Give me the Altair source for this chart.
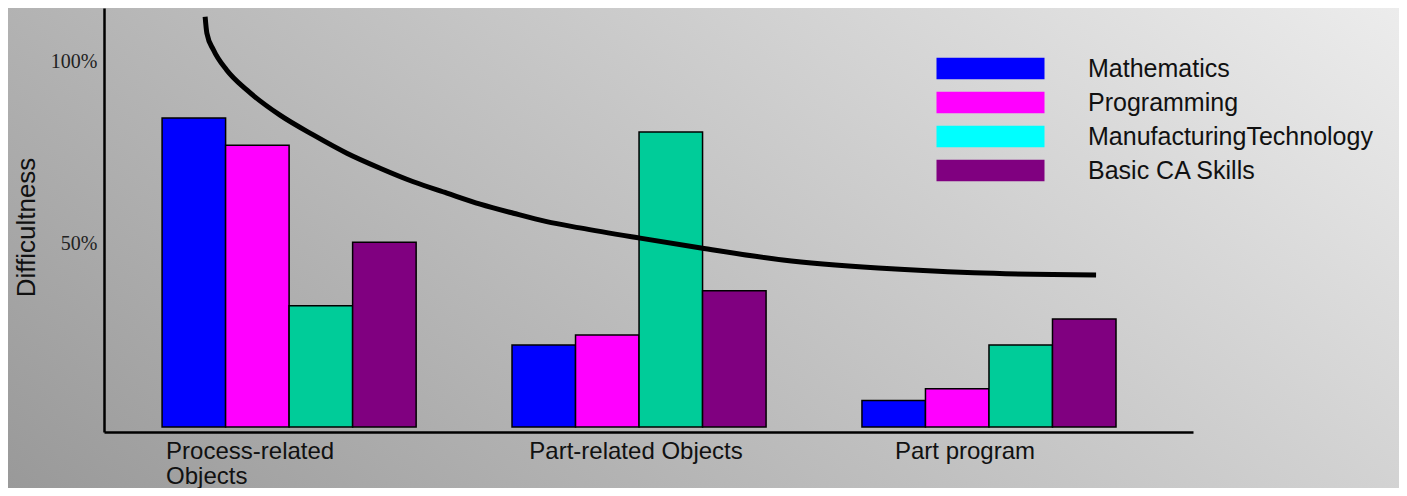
import altair as alt
import pandas as pd

# ---- data ----
groups = ["Process-related Objects", "Part-related Objects", "Part program"]
series = ["Mathematics", "Programming", "ManufacturingTechnology", "Basic CA Skills"]
mathematics = [84.4, 22.4, 7.2]
programming = [77.0, 25.1, 10.4]
manufacturing = [33.1, 80.6, 22.4]
basic_ca = [50.5, 37.2, 29.5]
legend_colors = ["#0000ff", "#ff00ff", "#00ffff", "#800080"]
manufacturing_bar_color = "#00cc99"

# trend curve, x in group units (1 = first group centre), y in percent
curve_x = [0.760, 0.765, 0.784, 0.822, 0.879, 0.974, 1.069, 1.165, 1.260, 1.355,
           1.451, 1.546, 1.641, 1.736, 1.831, 2.003, 2.177, 2.411, 2.683, 2.957, 3.306]
curve_y = [112.1, 107.6, 103.0, 97.5, 92.1, 85.2, 79.8, 74.8, 70.7, 67.0,
           63.9, 60.9, 58.4, 56.1, 54.4, 51.6, 48.9, 45.6, 43.4, 42.1, 41.5]

y_ticks = [50, 100]

rows = []
for i, g in enumerate(groups):
    for s, vals in zip(series, [mathematics, programming, manufacturing, basic_ca]):
        rows.append({"group": g, "series": s, "value": vals[i]})
bars_df = pd.DataFrame(rows)
curve_df = pd.DataFrame({"u": curve_x, "pct": curve_y})

W, H = 1089, 424
PAD = {"left": 96, "top": 0, "right": 206, "bottom": 56}

y_scale = alt.Scale(domain=[-1.4, 114.5], nice=False, zero=False)

gradient = alt.LinearGradient(
    gradient="linear",
    stops=[alt.GradientStop(color="#999999", offset=0),
           alt.GradientStop(color="#ececec", offset=1)],
    x1=0, y1=1, x2=1.206, y2=0.466,
)

background = alt.Chart(pd.DataFrame({"a": [0]})).mark_rect(
    fill=gradient, clip=False
).encode(
    x=alt.value(-PAD["left"]), x2=alt.value(W + PAD["right"]),
    y=alt.value(0), y2=alt.value(H + PAD["bottom"]),
)

label_align = {"condition": {"test": "datum.value == 'Process-related Objects'", "value": "left"},
               "value": "center"}
label_offset = {"condition": [
    {"test": "datum.value == 'Process-related Objects'", "value": -123},
    {"test": "datum.value == 'Part program'", "value": -24}],
    "value": -3}

bars = alt.Chart(bars_df).mark_bar(stroke="black", strokeWidth=1.5).encode(
    x=alt.X("group:N", sort=groups,
            scale=alt.Scale(paddingInner=0.274, paddingOuter=0.193, align=0.43),
            axis=alt.Axis(title=None, ticks=False, zindex=1, domainColor="black",
                          domainWidth=2.5, labelAngle=0, labelFont="Liberation Sans",
                          labelFontSize=24, labelColor="#111", labelPadding=7,
                          labelBaseline="top", labelLineHeight=25, labelLimit=400,
                          labelAlign=label_align, labelOffset=label_offset,
                          labelExpr="datum.value == 'Process-related Objects' ? ['Process-related', 'Objects'] : datum.value")),
    xOffset=alt.XOffset("series:N", sort=series,
                        scale=alt.Scale(paddingInner=0, paddingOuter=0)),
    y=alt.Y("value:Q", scale=y_scale,
            axis=alt.Axis(values=y_ticks, ticks=False, grid=False, zindex=1,
                          domainColor="black", domainWidth=2.5,
                          labelExpr="datum.value + '%'", labelFont="Liberation Serif",
                          labelFontSize=20, labelColor="#222", labelPadding=7,
                          title="Difficultness", titleFont="Liberation Sans",
                          titleFontSize=26, titleFontWeight="normal", titleColor="#111",
                          titleAngle=270, titleX=-78, titleY=219,
                          titleAlign="center", titleBaseline="middle")),
    color=alt.condition(
        "datum.series == 'ManufacturingTechnology'",
        alt.value(manufacturing_bar_color),
        alt.Color("series:N", sort=series,
                  scale=alt.Scale(domain=series, range=legend_colors),
                  legend=alt.Legend(
                      title=None, orient="none", legendX=874, legendY=48,
                      symbolType="M-5,-1H5V1H-5Z", symbolSize=466.56,
                      symbolStrokeWidth=0, symbolOpacity=1,
                      labelFont="Liberation Sans", labelFontSize=25,
                      labelColor="#111", labelOffset=85, rowPadding=8,
                      padding=0, zindex=1, labelLimit=400)),
    ),
)

curve = alt.Chart(curve_df).mark_line(
    color="black", strokeWidth=5, strokeCap="butt", interpolate="monotone"
).encode(
    x=alt.X("u:Q", scale=alt.Scale(domain=[0.471, 3.583], nice=False, zero=False), axis=None),
    y=alt.Y("pct:Q", scale=y_scale),
)

chart = alt.layer(background, bars, curve).resolve_scale(x="independent").properties(
    width=W, height=H, padding=PAD, autosize="none", background="#c0c0c0"
).configure_view(strokeWidth=0)

chart.save("out.html", embed_options={"renderer": "svg", "actions": False})
